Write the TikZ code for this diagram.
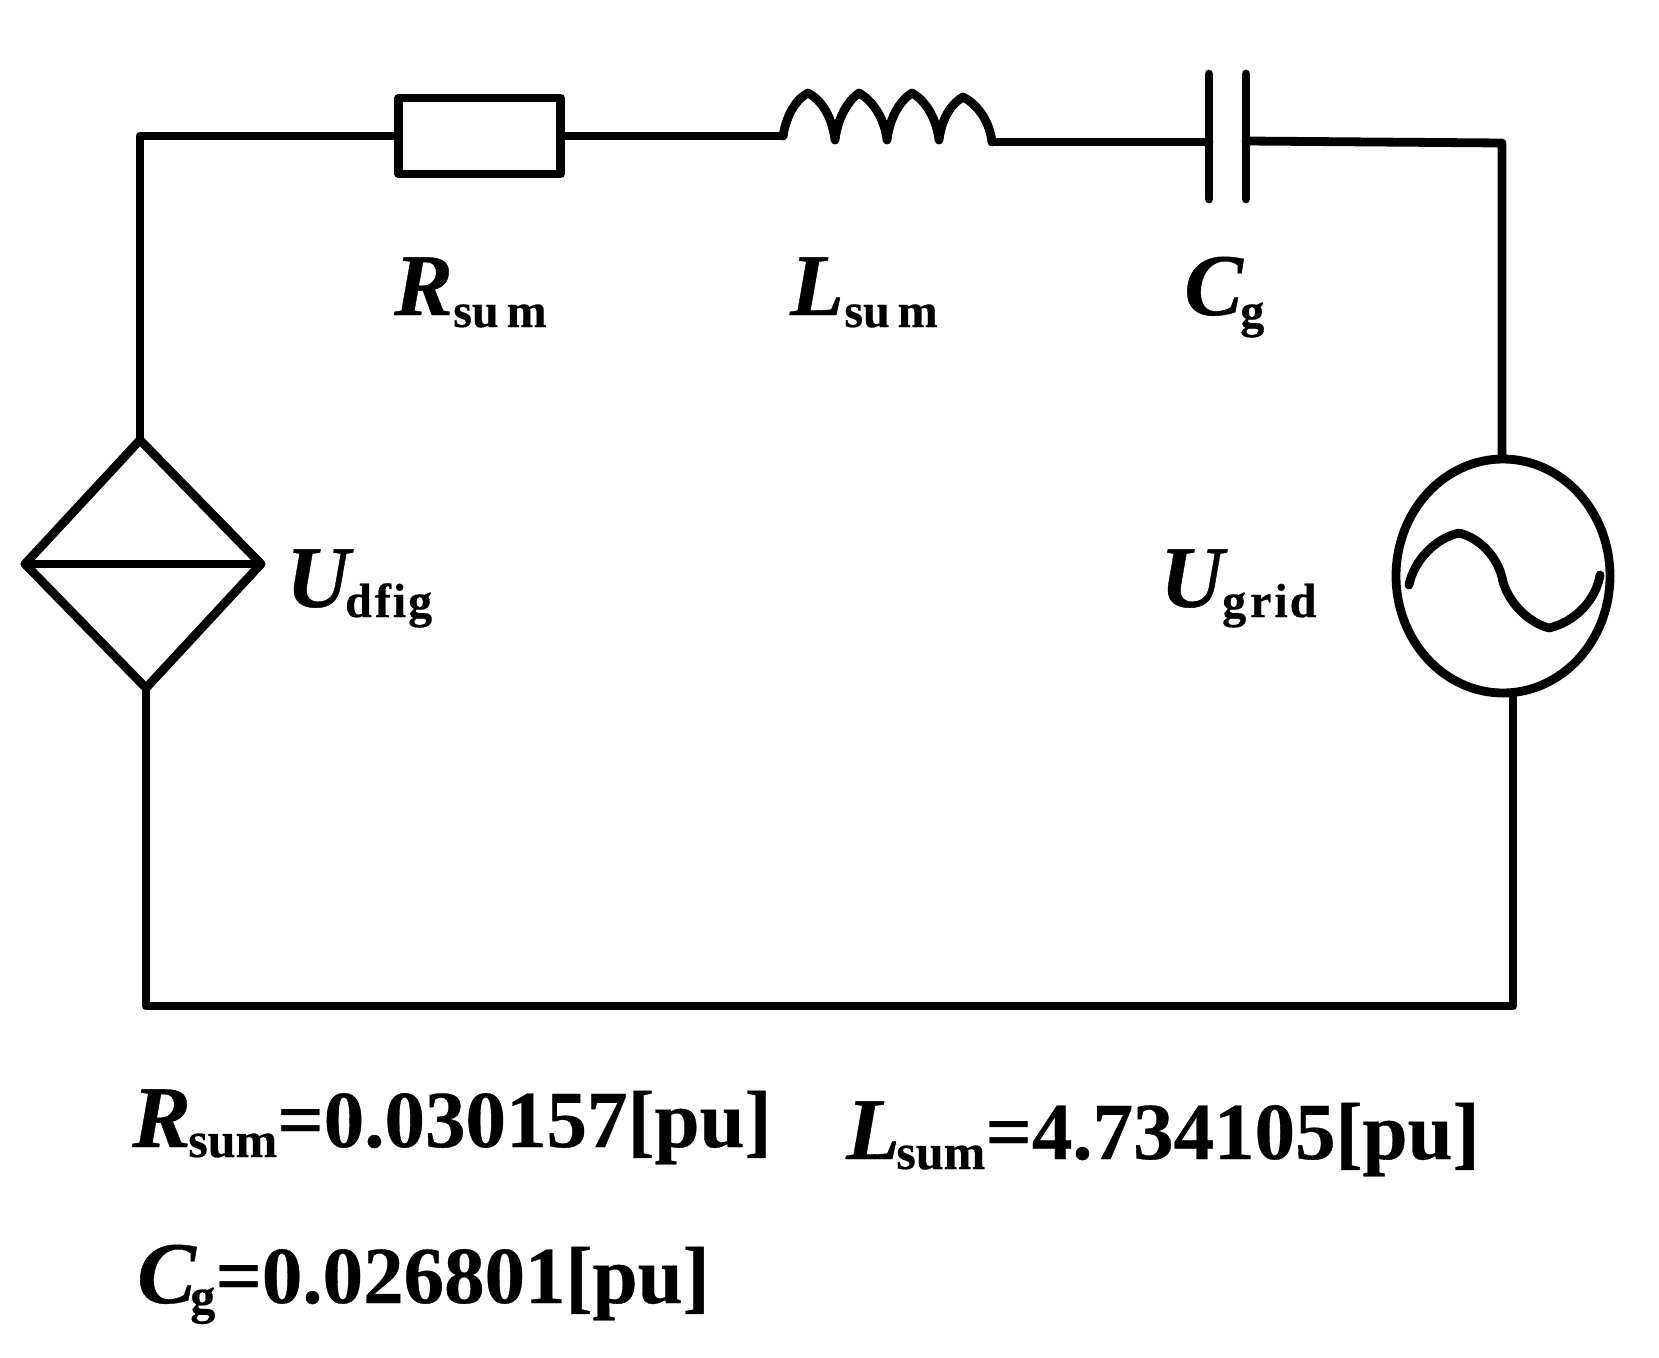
\documentclass[tikz,border=0pt]{standalone}
\usepackage{fontspec}
\setmainfont{Liberation Serif}[BoldFeatures={FakeBold=0.4},BoldItalicFeatures={FakeBold=0.4}]
\tikzset{wire/.style={line width=8.8pt,line cap=round,line join=round,black},
 big/.style={inner sep=0pt,anchor=base west,font=\bfseries\fontsize{81}{81}\selectfont},
 sym/.style={inner sep=0pt,anchor=base west,font=\bfseries\itshape\fontsize{88}{88}\selectfont},
 sub/.style={inner sep=0pt,anchor=base west,font=\bfseries\fontsize{48}{48}\selectfont},
 subb/.style={inner sep=0pt,anchor=base west,font=\bfseries\fontsize{50}{50}\selectfont}}
\begin{document}
\begin{tikzpicture}[x=1pt,y=-1pt]
\useasboundingbox (0,0) rectangle (1659,1357);
\fill[white] (0,0) rectangle (1659,1357);
\coordinate (tl) at (140,136);
\coordinate (dt) at (140,440);
\coordinate (dl) at (25,564);
\coordinate (dr) at (261,564);
\coordinate (db) at (146,688);
\coordinate (bl) at (146,1006);
\coordinate (br) at (1513,1006);
\coordinate (cb) at (1513,695);
\coordinate (ct) at (1502,457);
\coordinate (tr) at (1502,143);
\coordinate (ir) at (992,142);
\coordinate (il) at (783,136);
\coordinate (cl) at (1209,142);
\coordinate (cr) at (1246,141);
\node[draw,wire,minimum width=162pt,minimum height=76pt,inner sep=0pt] (res) at (479.5,136) {};
\draw[wire] (dt) -- (tl) -- (res.west);
\draw[wire] (res.east) -- (il);
\draw[wire] (il) .. controls (787,112) and (798,98) .. (808,93) .. controls (820,99) and (832,115) .. (835,140)
 .. controls (838,115) and (850,99) .. (859,93) .. controls (870,99) and (884,115) .. (887,140)
 .. controls (890,115) and (902,99) .. (912,93) .. controls (923,99) and (936,115) .. (939,140)
 .. controls (942,115) and (954,102) .. (963,97) .. controls (975,103) and (989,118) .. (992,142);
\draw[wire] (ir) -- (cl);
\draw[wire] (1209,74) -- (1209,199);
\draw[wire] (1246,74) -- (1246,199);
\draw[wire] (cr) -- (tr) -- (ct);
\draw[wire] (dt) -- (dr) -- (db) -- (dl) -- cycle;
\draw[wire] (dl) -- (dr);
\draw[wire] (db) -- (bl) -- (br) -- (cb);
\draw[wire] (1503,576) ellipse (107 and 117);
\draw[wire] (1409,585) .. controls (1414,560) and (1436,538) .. (1459,533) .. controls (1480,538) and (1499,558) .. (1503,582)
 .. controls (1510,605) and (1530,623) .. (1549,628) .. controls (1575,622) and (1596,600) .. (1600,575);
\node[sym] (r1) at (394,315) {R};
\node[sub] (r1s) at ([yshift=-12pt]r1.base east) {su\,m};
\node[sym] (l1) at (790,315) {L};
\node[sub] (l1s) at ([yshift=-12pt]l1.base east) {su\,m};
\node[sym] (c1) at (1184,315) {C};
\node[sub] (c1s) at ([xshift=-3pt,yshift=-12pt]c1.base east) {g};
\node[sym] (u1) at (286,607) {U};
\node[sub] (u1s) at ([xshift=-5pt,yshift=-10pt]u1.base east) {d\kern3pt f\kern2pt i\kern2pt g};
\node[sym] (u2) at (1160,607) {U};
\node[sub] (u2s) at ([xshift=-2pt,yshift=-10pt]u2.base east) {g\kern4pt r\kern3pt i\kern2pt d};
\node[sym] (r2) at (132,1147) {R};
\node[subb] (r2s) at ([xshift=-3pt,yshift=-10pt]r2.base east) {sum};
\node[big] (r2v) at ([yshift=10pt]r2s.base east) {=0.030157[pu]};
\node[sym] (l2) at (846,1159) {L};
\node[subb] (l2s) at ([xshift=-4pt,yshift=-10pt]l2.base east) {sum};
\node[big] (l2v) at ([yshift=10pt]l2s.base east) {=4.734105[pu]};
\node[sym] (c2) at (137,1303) {C};
\node[subb] (c2s) at ([xshift=-6pt,yshift=-10pt]c2.base east) {g};
\node[big] (c2v) at ([yshift=10pt]c2s.base east) {=0.026801[pu]};
\end{tikzpicture}
\end{document}
